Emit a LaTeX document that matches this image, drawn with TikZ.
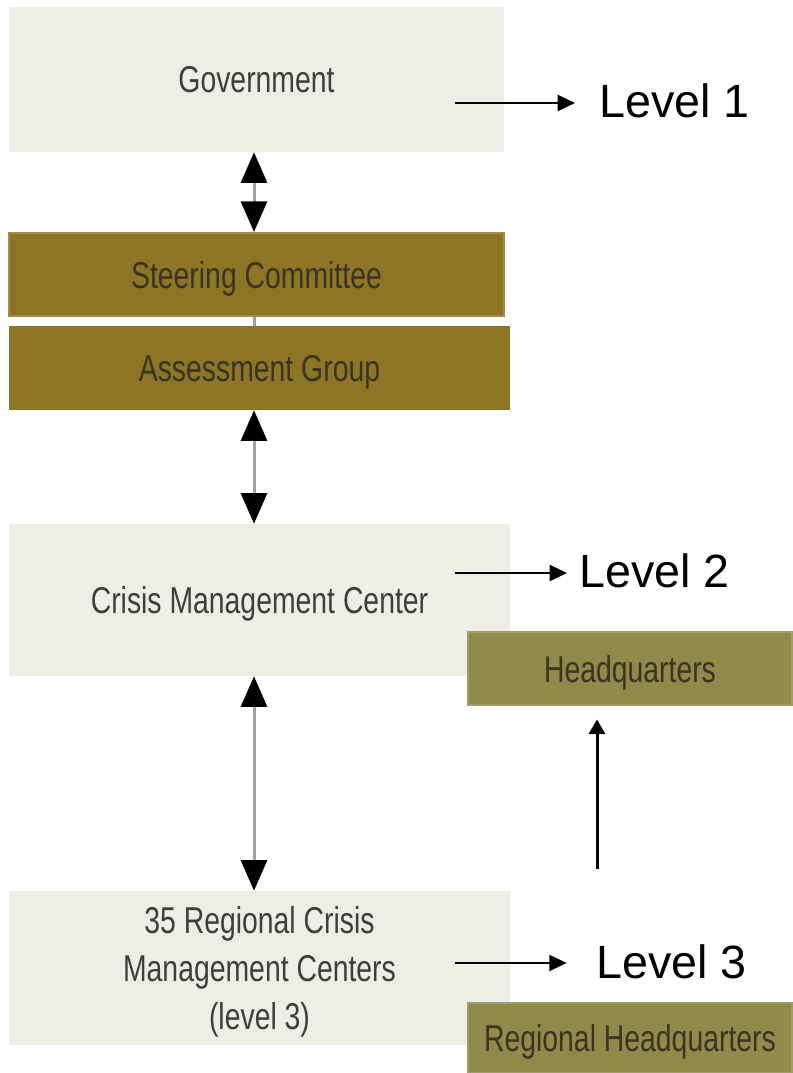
\documentclass[tikz,border=0pt]{standalone}
\usepackage{fontspec}
\setmainfont{Liberation Sans}
\newfontfamily\boxfont{Liberation Sans}[FakeStretch=0.76]
\usetikzlibrary{arrows.meta,positioning}
\definecolor{paleBox}{HTML}{EFEEE6}
\definecolor{brownBox}{HTML}{8E7525}
\definecolor{brownEdge}{HTML}{A48C4C}
\definecolor{oliveBox}{HTML}{8F894A}
\definecolor{oliveEdge}{HTML}{A29D68}
\definecolor{boxText}{HTML}{3E3E3E}
\definecolor{darkText}{HTML}{3A3422}
\definecolor{shaft}{HTML}{A0A0A0}
\tikzset{
  box/.style={inner sep=0pt, text=boxText, align=center, text depth=0pt,
    font=\boxfont\fontsize{28}{36}\selectfont},
  pale box/.style={box, fill=paleBox},
  brown box/.style={box, fill=brownBox, text=darkText},
  olive box/.style={box, fill=oliveBox, draw=oliveEdge, line width=1.5pt, text=darkText},
  link/.style={shaft, line width=2.25pt,
    {Triangle[color=black, length=23pt, width=19.5pt]}-{Triangle[color=black, length=23pt, width=19.5pt]}},
  up arrow/.style={line width=2.25pt, -{Triangle[length=11pt, width=12pt]}},
  level arrow/.style={line width=1.5pt, -{Triangle[length=13pt, width=12pt]}},
  level/.style={font=\fontsize{35}{42}\selectfont, inner sep=0pt, anchor=west},
}

\begin{document}
\begin{tikzpicture}[x=0.75pt, y=-0.75pt]
  \useasboundingbox (0,0) rectangle (792,1073);

  % Boxes
  \node[pale box, minimum width=371.25pt, minimum height=108.75pt] (gov) at (256.5,79.5) {Government};
  \node[brown box, draw=brownEdge, line width=1.5pt, minimum width=371.25pt, minimum height=62.25pt]
    (steer) at (256.5,274.5) {Steering Committee};
  \node[brown box, minimum width=375.75pt, minimum height=63pt, text depth=-2pt] (assess) at (259.5,368) {Assessment Group};
  \node[pale box, minimum width=375.75pt, minimum height=114pt, text depth=-2pt] (cmc) at (259.5,600) {Crisis Management Center};
  \node[pale box, minimum width=375.75pt, minimum height=115.5pt] (rcmc) at (259.5,968)
    {35 Regional Crisis\\Management Centers\\(level 3)};
  \node[olive box, minimum width=243pt, minimum height=54.75pt] (hq) at (630,668.5) {Headquarters};
  \node[olive box, minimum width=243pt, minimum height=52.5pt, text depth=-2pt] (rhq) at (630,1038) {Regional Headquarters};

  % Levels
  \node[level] (lvlone) at (599,101) {Level 1};
  \node[level] (lvltwo) at (579,571) {Level 2};
  \node[level] (lvlthree) at (596,962) {Level 3};

  % Arrows
  \coordinate (spine) at (254,0);
  \draw[link] (gov.south -| spine) -- (steer.north -| spine);
  \draw[shaft, line width=2.25pt] (steer.south -| spine) -- (assess.north -| spine);
  \draw[link] (assess.south -| spine) -- (cmc.north -| spine);
  \draw[link] (cmc.south -| spine) -- (rcmc.north -| spine);

  \coordinate (upfoot) at (597,869);
  \draw[up arrow, shorten >=10pt] (upfoot) -- (upfoot |- hq.south);

  \coordinate (l1) at (455,103);
  \coordinate (l2) at (455,573);
  \coordinate (l3) at (455,963);
  \draw[level arrow, shorten >=18pt] (l1) -- (l1 -| lvlone.west);
  \draw[level arrow, shorten >=9pt] (l2) -- (l2 -| lvltwo.west);
  \draw[level arrow, shorten >=22pt] (l3) -- (l3 -| lvlthree.west);
\end{tikzpicture}
\end{document}
